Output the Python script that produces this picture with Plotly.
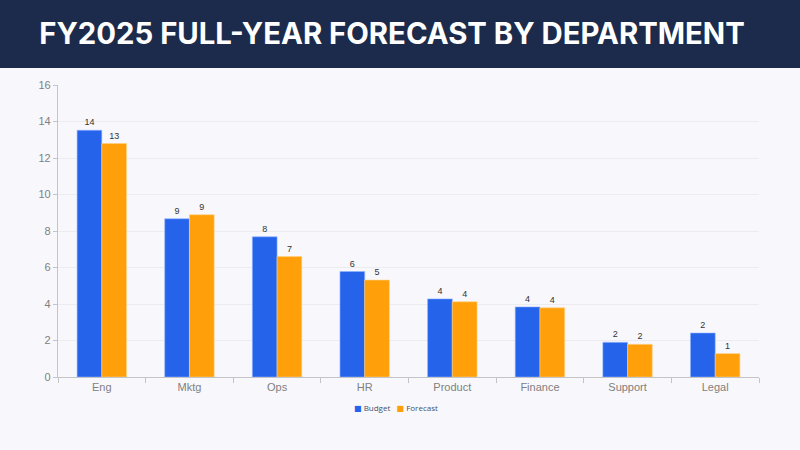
import plotly.graph_objects as go

departments = ["Eng", "Mktg", "Ops", "HR", "Product", "Finance", "Support", "Legal"]
budget = [13.52, 8.67, 7.68, 5.78, 4.28, 3.84, 1.90, 2.41]
forecast = [12.79, 8.89, 6.60, 5.31, 4.12, 3.79, 1.79, 1.28]
y_ticks = [0, 2, 4, 6, 8, 10, 12, 14, 16]
series_names = ["Budget", "Forecast"]

BLUE = "#2563eb"
ORANGE = "#ff9f0a"

fig = go.Figure()
fig.add_trace(go.Bar(
    name=series_names[0], x=departments, y=budget,
    marker=dict(color=BLUE, line=dict(color="#8fb4ff", width=0.6)),
    texttemplate="%{y:.0f}", textposition="outside",
    textfont=dict(size=9, color="#333333", family="Liberation Sans, Arial"),
    cliponaxis=False,
))
fig.add_trace(go.Bar(
    name=series_names[1], x=departments, y=forecast,
    marker=dict(color=ORANGE, line=dict(color="#ffd080", width=0.6)),
    texttemplate="%{y:.0f}", textposition="outside",
    textfont=dict(size=9, color="#333333", family="Liberation Sans, Arial"),
    cliponaxis=False,
))

legend_text = (
    f"<span style='color:{BLUE}'>■</span> {series_names[0]}"
    f"&nbsp;&nbsp;&nbsp;"
    f"<span style='color:{ORANGE}'>■</span> {series_names[1]}"
)

fig.update_layout(
    width=800, height=450,
    margin=dict(l=58, r=41, t=85, b=73),
    paper_bgcolor="#f8f8fc",
    plot_bgcolor="#f8f8fc",
    barmode="group",
    bargap=0.436,
    bargroupgap=0,
    showlegend=False,
    title=dict(
        text="<b>FY2025 FULL-YEAR FORECAST BY DEPARTMENT</b>",
        xref="container", yref="container",
        x=0.49, xanchor="center", y=1 - 34 / 450, yanchor="middle",
        font=dict(size=29.3, color="#ffffff", family="Inter, Roboto, sans-serif"),
    ),
    annotations=[dict(
        text=legend_text, showarrow=False,
        xref="paper", yref="paper", x=0.4815, xanchor="center",
        y=-0.103, yanchor="middle",
        font=dict(size=8, color="#44506a", family="Open Sans, DejaVu Sans"),
    )],
    shapes=[dict(
        type="rect", xref="paper", yref="paper", ysizemode="pixel", yanchor=1,
        x0=-1, x1=2, y0=17, y1=200,
        fillcolor="#1c2b4b", line=dict(width=0), layer="below",
    )],
    xaxis=dict(
        type="category",
        showline=True, linecolor="#c4c4c8", linewidth=1.2,
        tickson="boundaries", ticks="outside", ticklen=5, tickcolor="#c4c4c8",
        tickfont=dict(size=11, color="#808080", family="Liberation Sans, Arial"),
        showgrid=False,
    ),
    yaxis=dict(
        range=[0, 16], tickvals=y_ticks,
        showline=True, linecolor="#c4c4c8", linewidth=1.2,
        ticks="outside", ticklen=4, tickcolor="#c4c4c8",
        tickfont=dict(size=11, color="#808080", family="Liberation Sans, Arial"),
        showgrid=True, gridcolor="#ececf0", gridwidth=1,
        zeroline=False,
    ),
)

fig.write_html(
    "out.html",
    config={"displayModeBar": False},
    post_script="document.body.style.margin='0';document.body.style.padding='0';",
)
